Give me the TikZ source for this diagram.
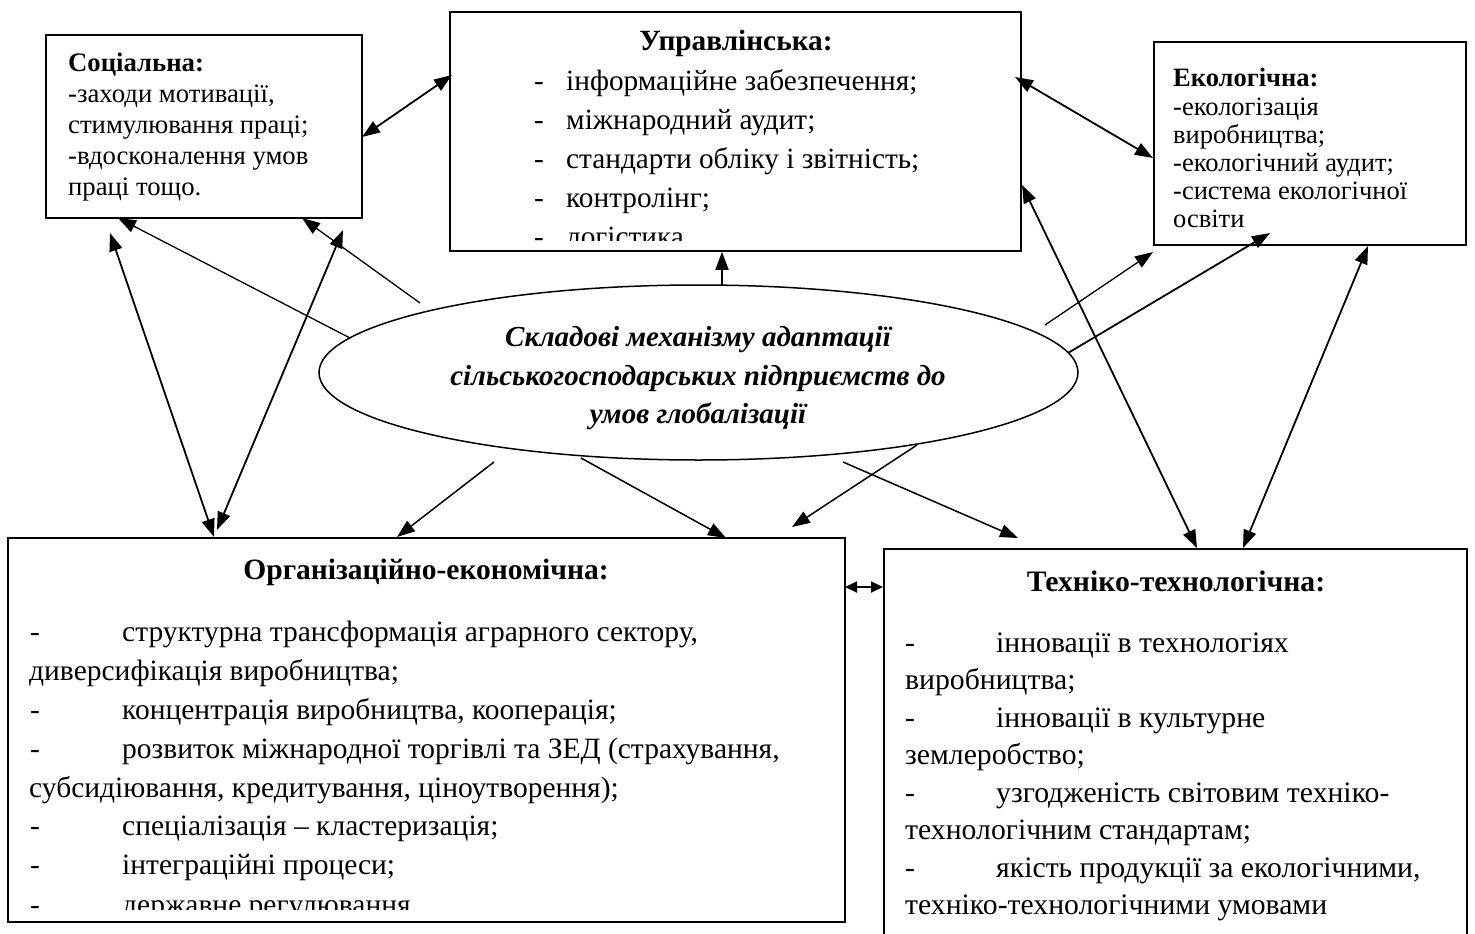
\documentclass[tikz,border=0pt]{standalone}
\usepackage{fontspec}
\setmainfont{Liberation Serif}
\usetikzlibrary{arrows.meta,shapes.geometric}
\begin{document}
\begin{tikzpicture}[x=1pt,y=-1pt,
  box/.style={draw,line width=1.6pt,inner sep=0},
  ell/.style={draw,ellipse,line width=1.5pt,inner sep=0},
  st/.style={anchor=base west,inner sep=0,font=\fontsize{26.7}{31}\selectfont},
  et/.style={anchor=base west,inner sep=0,font=\fontsize{26.5}{28}\selectfont},
  ut/.style={anchor=base west,inner sep=0,font=\fontsize{29.3}{39}\selectfont},
  ot/.style={anchor=base west,inner sep=0,font=\fontsize{29.5}{39}\selectfont},
  tt/.style={anchor=base west,inner sep=0,font=\fontsize{29.7}{38}\selectfont},
  ct/.style={anchor=base,inner sep=0,font=\fontsize{29}{38}\selectfont\bfseries\itshape},
  arr/.style={line width=1.3pt,-{Triangle[length=18pt,width=13pt]}},
  arrb/.style={line width=1.8pt,-{Triangle[length=18pt,width=13pt]}},
  darr/.style={line width=1.8pt,{Triangle[length=18pt,width=13pt]}-{Triangle[length=18pt,width=13pt]}},
]
\useasboundingbox (0,0) rectangle (1475,934);
% boxes
\node[box,minimum width=316pt,minimum height=183pt] (soc) at (204,126.5) {};
\node[box,minimum width=571pt,minimum height=239pt] (upr) at (735.5,131.5) {};
\node[box,minimum width=312pt,minimum height=203pt] (eco) at (1310,143.5) {};
\node[box,minimum width=837pt,minimum height=384pt] (org) at (426.5,730) {};
\node[box,minimum width=583pt,minimum height=411pt] (teh) at (1175.5,754.5) {};
\node[ell,minimum width=759pt,minimum height=175pt] (mid) at (698.5,372.5) {};
% social text
\node[st,font=\fontsize{26.7}{31}\selectfont\bfseries] (s0) at (68,71) {Соціальна:};
\node[st] (s1) at (68,102) {-заходи мотивації,};
\node[st] (s2) at (68,133) {стимулювання праці;};
\node[st] (s3) at (68,164) {-вдосконалення умов};
\node[st] (s4) at (68,195) {праці тощо.};
% ecology text
\node[et,font=\fontsize{26.5}{28}\selectfont\bfseries] (e0) at (1173,87) {Екологічна:};
\node[et] (e1) at (1173,115) {-екологізація};
\node[et] (e2) at (1173,143) {виробництва;};
\node[et] (e3) at (1173,171) {-екологічний аудит;};
\node[et] (e4) at (1173,199) {-система екологічної};
\node[et] (e5) at (1173,227) {освіти};
% management text
\begin{scope}
\clip (451,13) rectangle (1020,240);
\node[ut,anchor=base,font=\fontsize{29.3}{39}\selectfont\bfseries] (u0) at (736,51) {Управлінська:};
\node[ut] (u1d) at (534,90) {-};   \node[ut] (u1) at (566,90) {інформаційне забезпечення;};
\node[ut] (u2d) at (534,129) {-};  \node[ut] (u2) at (566,129) {міжнародний аудит;};
\node[ut] (u3d) at (534,168) {-};  \node[ut] (u3) at (566,168) {стандарти обліку і звітність;};
\node[ut] (u4d) at (534,207) {-};  \node[ut] (u4) at (566,207) {контролінг;};
\node[ut] (u5d) at (534,246) {-};  \node[ut] (u5) at (566,246) {логістика};
\end{scope}
% organisational text
\begin{scope}
\clip (9,539) rectangle (844,909);
\node[ot,anchor=base,font=\fontsize{29.5}{39}\selectfont\bfseries] (o0) at (426,579) {Організаційно-економічна:};
\node[ot] (o1d) at (30,641) {-}; \node[ot] (o1) at (122,641) {структурна трансформація аграрного сектору,};
\node[ot] (o2) at (29,680) {диверсифікація виробництва;};
\node[ot] (o3d) at (30,719) {-}; \node[ot] (o3) at (122,719) {концентрація виробництва, кооперація;};
\node[ot] (o4d) at (30,758) {-}; \node[ot] (o4) at (122,758) {розвиток міжнародної торгівлі та ЗЕД (страхування,};
\node[ot] (o5) at (29,797) {субсидіювання, кредитування, ціноутворення);};
\node[ot] (o6d) at (30,835) {-}; \node[ot] (o6) at (122,835) {спеціалізація – кластеризація;};
\node[ot] (o7d) at (30,874) {-}; \node[ot] (o7) at (122,874) {інтеграційні процеси;};
\node[ot] (o8d) at (30,914) {-}; \node[ot] (o8) at (122,914) {державне регулювання};
\end{scope}
% technical text
\node[tt,anchor=base,font=\fontsize{29.7}{38}\selectfont\bfseries] (t0) at (1176,591) {Техніко-технологічна:};
\node[tt] (t1d) at (905,652) {-}; \node[tt] (t1) at (996,652) {інновації в технологіях};
\node[tt] (t2) at (905,689.5) {виробництва;};
\node[tt] (t3d) at (905,727) {-}; \node[tt] (t3) at (996,727) {інновації в культурне};
\node[tt] (t4) at (905,764.5) {землеробство;};
\node[tt] (t5d) at (905,802) {-}; \node[tt] (t5) at (996,802) {узгодженість світовим техніко-};
\node[tt] (t6) at (905,839.5) {технологічним стандартам;};
\node[tt] (t7d) at (905,877) {-}; \node[tt] (t7) at (996,877) {якість продукції за екологічними,};
\node[tt] (t8) at (905,914.5) {техніко-технологічними умовами};
% centre text
\node[ct] (c1) at (698,346) {Складові механізму адаптації};
\node[ct] (c2) at (698,385) {сільськогосподарських підприємств до};
\node[ct] (c3) at (698,423) {умов глобалізації};
% connector end points
\coordinate (a1) at (350,338);  \coordinate (a2) at (118,218);
\coordinate (b1) at (420,303);  \coordinate (b2) at (302,218);
\coordinate (c1a) at (110,233); \coordinate (c1b) at (214,537);
\coordinate (d1) at (343,230);  \coordinate (d2) at (217,530);
\coordinate (e1a) at (494,462); \coordinate (e2a) at (397,537);
\coordinate (f1) at (581,458);  \coordinate (f2) at (726,538);
\coordinate (g1) at (917,445);  \coordinate (g2) at (792,527);
\coordinate (h1) at (843,462);  \coordinate (h2) at (1018,538);
\coordinate (up1) at (722,286);
\coordinate (i1) at (1022,185); \coordinate (i2) at (1197,548);
\coordinate (j1) at (1045,325); \coordinate (j2) at (1153,252);
\coordinate (k1) at (1068,353); \coordinate (k2) at (1270,233);
\coordinate (l1) at (1368,246); \coordinate (l2) at (1243,548);
\coordinate (m1) at (1015,77);  \coordinate (m2) at (1153,158);
\coordinate (n1) at (362,137);  \coordinate (n2) at (452,75);
\coordinate (p1) at (845,587);  \coordinate (p2) at (883,587);
% connectors
\draw[arr] (a1) -- (a2);
\draw[arr] (b1) -- (b2);
\draw[darr] (c1a) -- (c1b);
\draw[darr] (d1) -- (d2);
\draw[arr,line width=1.5pt] (e1a) -- (e2a);
\draw[arr,line width=1.5pt] (f1) -- (f2);
\draw[arr,line width=1.5pt] (g1) -- (g2);
\draw[arr,line width=1.5pt] (h1) -- (h2);
\draw[arrb] (up1) -- (up1 |- upr.south);
\draw[darr] (i1) -- (i2);
\draw[arr] (j1) -- (j2);
\draw[arrb] (k1) -- (k2);
\draw[darr] (l1) -- (l2);
\draw[darr] (m1) -- (m2);
\draw[darr] (n1) -- (n2);
\draw[line width=1.8pt,{Triangle[length=12pt,width=11pt]}-{Triangle[length=12pt,width=11pt]}] (p1) -- (p2);
\end{tikzpicture}
\end{document}
